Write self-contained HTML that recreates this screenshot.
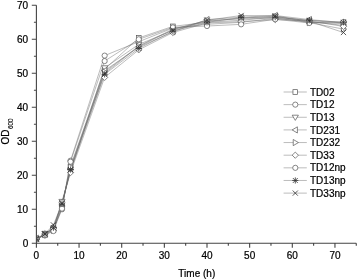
<!DOCTYPE html>
<html><head><meta charset="utf-8"><style>
html,body{margin:0;padding:0;background:#fff;}
body{width:358px;height:280px;overflow:hidden;}
svg{display:block;will-change:transform;}
text{font-family:"Liberation Sans",sans-serif;font-size:10px;fill:#000;stroke:#000;stroke-width:0.22px;}
.ln{fill:none;stroke:#6a6a6a;stroke-width:0.45;}
.m{fill:#fff;stroke:#555;stroke-width:0.7;}
.mk{fill:none;stroke:#333;stroke-width:0.8;}
.ax{fill:none;stroke:#444;stroke-width:1.1;}
</style></head><body>
<svg width="358" height="280" viewBox="0 0 358 280">
<defs><clipPath id="pc"><rect x="36.9" y="0" width="330" height="242.8"/></clipPath></defs>
<g clip-path="url(#pc)">
<polyline points="36.40,239.22 44.93,234.80 53.46,229.70 61.99,206.58 70.52,166.46 104.64,69.22 138.76,37.94 172.88,26.38 207.00,22.30 241.12,20.26 275.24,17.20 309.36,20.60 343.48,22.98" class="ln"/>
<polyline points="36.40,238.54 44.93,235.48 53.46,228.00 61.99,209.30 70.52,160.68 104.64,55.62 138.76,41.68 172.88,28.08 207.00,24.34 241.12,22.30 275.24,18.22 309.36,21.62 343.48,25.36" class="ln"/>
<polyline points="36.40,239.90 44.93,233.44 53.46,229.02 61.99,201.48 70.52,171.22 104.64,67.86 138.76,44.40 172.88,30.46 207.00,21.28 241.12,18.22 275.24,16.18 309.36,22.30 343.48,23.66" class="ln"/>
<polyline points="36.40,238.20 44.93,234.46 53.46,226.30 61.99,204.88 70.52,168.50 104.64,70.58 138.76,47.12 172.88,31.82 207.00,19.58 241.12,17.20 275.24,15.50 309.36,19.58 343.48,22.64" class="ln"/>
<polyline points="36.40,238.88 44.93,234.46 53.46,230.38 61.99,205.90 70.52,167.14 104.64,71.94 138.76,46.10 172.88,29.10 207.00,20.60 241.12,18.90 275.24,17.88 309.36,22.64 343.48,29.10" class="ln"/>
<polyline points="36.40,239.56 44.93,233.78 53.46,228.34 61.99,202.50 70.52,172.58 104.64,77.38 138.76,49.84 172.88,32.50 207.00,22.98 241.12,21.62 275.24,19.58 309.36,20.94 343.48,26.38" class="ln"/>
<polyline points="36.40,238.88 44.93,235.14 53.46,231.06 61.99,208.62 70.52,161.70 104.64,61.06 138.76,39.30 172.88,27.40 207.00,26.04 241.12,24.34 275.24,19.24 309.36,22.98 343.48,21.96" class="ln"/>
<polyline points="36.40,239.22 44.93,234.12 53.46,227.66 61.99,203.86 70.52,169.52 104.64,74.32 138.76,48.48 172.88,31.14 207.00,22.30 241.12,17.54 275.24,17.20 309.36,20.26 343.48,22.30" class="ln"/>
<polyline points="36.40,238.54 44.93,233.78 53.46,224.94 61.99,203.18 70.52,170.20 104.64,73.30 138.76,46.44 172.88,29.78 207.00,20.26 241.12,15.50 275.24,15.84 309.36,21.28 343.48,32.50" class="ln"/>
<rect x="34.06" y="236.88" width="4.68" height="4.68" class="m"/>
<rect x="42.59" y="232.46" width="4.68" height="4.68" class="m"/>
<rect x="51.12" y="227.36" width="4.68" height="4.68" class="m"/>
<rect x="59.65" y="204.24" width="4.68" height="4.68" class="m"/>
<rect x="68.18" y="164.12" width="4.68" height="4.68" class="m"/>
<rect x="102.30" y="66.88" width="4.68" height="4.68" class="m"/>
<rect x="136.42" y="35.60" width="4.68" height="4.68" class="m"/>
<rect x="170.54" y="24.04" width="4.68" height="4.68" class="m"/>
<rect x="204.66" y="19.96" width="4.68" height="4.68" class="m"/>
<rect x="238.78" y="17.92" width="4.68" height="4.68" class="m"/>
<rect x="272.90" y="14.86" width="4.68" height="4.68" class="m"/>
<rect x="307.02" y="18.26" width="4.68" height="4.68" class="m"/>
<rect x="341.14" y="20.64" width="4.68" height="4.68" class="m"/>
<circle cx="36.40" cy="238.54" r="2.60" class="m"/>
<circle cx="44.93" cy="235.48" r="2.60" class="m"/>
<circle cx="53.46" cy="228.00" r="2.60" class="m"/>
<circle cx="61.99" cy="209.30" r="2.60" class="m"/>
<circle cx="70.52" cy="160.68" r="2.60" class="m"/>
<circle cx="104.64" cy="55.62" r="2.60" class="m"/>
<circle cx="138.76" cy="41.68" r="2.60" class="m"/>
<circle cx="172.88" cy="28.08" r="2.60" class="m"/>
<circle cx="207.00" cy="24.34" r="2.60" class="m"/>
<circle cx="241.12" cy="22.30" r="2.60" class="m"/>
<circle cx="275.24" cy="18.22" r="2.60" class="m"/>
<circle cx="309.36" cy="21.62" r="2.60" class="m"/>
<circle cx="343.48" cy="25.36" r="2.60" class="m"/>
<path d="M33.30,237.82H39.50L36.40,243.02Z" class="m"/>
<path d="M41.83,231.36H48.03L44.93,236.56Z" class="m"/>
<path d="M50.36,226.94H56.56L53.46,232.14Z" class="m"/>
<path d="M58.89,199.40H65.09L61.99,204.60Z" class="m"/>
<path d="M67.42,169.14H73.62L70.52,174.34Z" class="m"/>
<path d="M101.54,65.78H107.74L104.64,70.98Z" class="m"/>
<path d="M135.66,42.32H141.86L138.76,47.52Z" class="m"/>
<path d="M169.78,28.38H175.98L172.88,33.58Z" class="m"/>
<path d="M203.90,19.20H210.10L207.00,24.40Z" class="m"/>
<path d="M238.02,16.14H244.22L241.12,21.34Z" class="m"/>
<path d="M272.14,14.10H278.34L275.24,19.30Z" class="m"/>
<path d="M306.26,20.22H312.46L309.36,25.42Z" class="m"/>
<path d="M340.38,21.58H346.58L343.48,26.78Z" class="m"/>
<path d="M38.48,235.10V241.30L33.28,238.20Z" class="m"/>
<path d="M47.01,231.36V237.56L41.81,234.46Z" class="m"/>
<path d="M55.54,223.20V229.40L50.34,226.30Z" class="m"/>
<path d="M64.07,201.78V207.98L58.87,204.88Z" class="m"/>
<path d="M72.60,165.40V171.60L67.40,168.50Z" class="m"/>
<path d="M106.72,67.48V73.68L101.52,70.58Z" class="m"/>
<path d="M140.84,44.02V50.22L135.64,47.12Z" class="m"/>
<path d="M174.96,28.72V34.92L169.76,31.82Z" class="m"/>
<path d="M209.08,16.48V22.68L203.88,19.58Z" class="m"/>
<path d="M243.20,14.10V20.30L238.00,17.20Z" class="m"/>
<path d="M277.32,12.40V18.60L272.12,15.50Z" class="m"/>
<path d="M311.44,16.48V22.68L306.24,19.58Z" class="m"/>
<path d="M345.56,19.54V25.74L340.36,22.64Z" class="m"/>
<path d="M34.32,235.78V241.98L39.52,238.88Z" class="m"/>
<path d="M42.85,231.36V237.56L48.05,234.46Z" class="m"/>
<path d="M51.38,227.28V233.48L56.58,230.38Z" class="m"/>
<path d="M59.91,202.80V209.00L65.11,205.90Z" class="m"/>
<path d="M68.44,164.04V170.24L73.64,167.14Z" class="m"/>
<path d="M102.56,68.84V75.04L107.76,71.94Z" class="m"/>
<path d="M136.68,43.00V49.20L141.88,46.10Z" class="m"/>
<path d="M170.80,26.00V32.20L176.00,29.10Z" class="m"/>
<path d="M204.92,17.50V23.70L210.12,20.60Z" class="m"/>
<path d="M239.04,15.80V22.00L244.24,18.90Z" class="m"/>
<path d="M273.16,14.78V20.98L278.36,17.88Z" class="m"/>
<path d="M307.28,19.54V25.74L312.48,22.64Z" class="m"/>
<path d="M341.40,26.00V32.20L346.60,29.10Z" class="m"/>
<path d="M36.40,236.44L39.52,239.56L36.40,242.68L33.28,239.56Z" class="m"/>
<path d="M44.93,230.66L48.05,233.78L44.93,236.90L41.81,233.78Z" class="m"/>
<path d="M53.46,225.22L56.58,228.34L53.46,231.46L50.34,228.34Z" class="m"/>
<path d="M61.99,199.38L65.11,202.50L61.99,205.62L58.87,202.50Z" class="m"/>
<path d="M70.52,169.46L73.64,172.58L70.52,175.70L67.40,172.58Z" class="m"/>
<path d="M104.64,74.26L107.76,77.38L104.64,80.50L101.52,77.38Z" class="m"/>
<path d="M138.76,46.72L141.88,49.84L138.76,52.96L135.64,49.84Z" class="m"/>
<path d="M172.88,29.38L176.00,32.50L172.88,35.62L169.76,32.50Z" class="m"/>
<path d="M207.00,19.86L210.12,22.98L207.00,26.10L203.88,22.98Z" class="m"/>
<path d="M241.12,18.50L244.24,21.62L241.12,24.74L238.00,21.62Z" class="m"/>
<path d="M275.24,16.46L278.36,19.58L275.24,22.70L272.12,19.58Z" class="m"/>
<path d="M309.36,17.82L312.48,20.94L309.36,24.06L306.24,20.94Z" class="m"/>
<path d="M343.48,23.26L346.60,26.38L343.48,29.50L340.36,26.38Z" class="m"/>
<circle cx="36.40" cy="238.88" r="2.60" class="m"/>
<circle cx="44.93" cy="235.14" r="2.60" class="m"/>
<circle cx="53.46" cy="231.06" r="2.60" class="m"/>
<circle cx="61.99" cy="208.62" r="2.60" class="m"/>
<circle cx="70.52" cy="161.70" r="2.60" class="m"/>
<circle cx="104.64" cy="61.06" r="2.60" class="m"/>
<circle cx="138.76" cy="39.30" r="2.60" class="m"/>
<circle cx="172.88" cy="27.40" r="2.60" class="m"/>
<circle cx="207.00" cy="26.04" r="2.60" class="m"/>
<circle cx="241.12" cy="24.34" r="2.60" class="m"/>
<circle cx="275.24" cy="19.24" r="2.60" class="m"/>
<circle cx="309.36" cy="22.98" r="2.60" class="m"/>
<circle cx="343.48" cy="21.96" r="2.60" class="m"/>
<path d="M33.93,236.75L38.87,241.69M38.87,236.75L33.93,241.69M36.40,236.13V242.31M33.31,239.22H39.49" class="mk"/>
<path d="M42.46,231.65L47.40,236.59M47.40,231.65L42.46,236.59M44.93,231.03V237.21M41.84,234.12H48.02" class="mk"/>
<path d="M50.99,225.19L55.93,230.13M55.93,225.19L50.99,230.13M53.46,224.57V230.75M50.37,227.66H56.55" class="mk"/>
<path d="M59.52,201.39L64.46,206.33M64.46,201.39L59.52,206.33M61.99,200.77V206.95M58.90,203.86H65.08" class="mk"/>
<path d="M68.05,167.05L72.99,171.99M72.99,167.05L68.05,171.99M70.52,166.43V172.61M67.43,169.52H73.61" class="mk"/>
<path d="M102.17,71.85L107.11,76.79M107.11,71.85L102.17,76.79M104.64,71.23V77.41M101.55,74.32H107.73" class="mk"/>
<path d="M136.29,46.01L141.23,50.95M141.23,46.01L136.29,50.95M138.76,45.39V51.57M135.67,48.48H141.85" class="mk"/>
<path d="M170.41,28.67L175.35,33.61M175.35,28.67L170.41,33.61M172.88,28.05V34.23M169.79,31.14H175.97" class="mk"/>
<path d="M204.53,19.83L209.47,24.77M209.47,19.83L204.53,24.77M207.00,19.21V25.39M203.91,22.30H210.09" class="mk"/>
<path d="M238.65,15.07L243.59,20.01M243.59,15.07L238.65,20.01M241.12,14.45V20.63M238.03,17.54H244.21" class="mk"/>
<path d="M272.77,14.73L277.71,19.67M277.71,14.73L272.77,19.67M275.24,14.11V20.29M272.15,17.20H278.33" class="mk"/>
<path d="M306.89,17.79L311.83,22.73M311.83,17.79L306.89,22.73M309.36,17.17V23.35M306.27,20.26H312.45" class="mk"/>
<path d="M341.01,19.83L345.95,24.77M345.95,19.83L341.01,24.77M343.48,19.21V25.39M340.39,22.30H346.57" class="mk"/>
<path d="M33.80,235.94L39.00,241.14M39.00,235.94L33.80,241.14" class="mk"/>
<path d="M42.33,231.18L47.53,236.38M47.53,231.18L42.33,236.38" class="mk"/>
<path d="M50.86,222.34L56.06,227.54M56.06,222.34L50.86,227.54" class="mk"/>
<path d="M59.39,200.58L64.59,205.78M64.59,200.58L59.39,205.78" class="mk"/>
<path d="M67.92,167.60L73.12,172.80M73.12,167.60L67.92,172.80" class="mk"/>
<path d="M102.04,70.70L107.24,75.90M107.24,70.70L102.04,75.90" class="mk"/>
<path d="M136.16,43.84L141.36,49.04M141.36,43.84L136.16,49.04" class="mk"/>
<path d="M170.28,27.18L175.48,32.38M175.48,27.18L170.28,32.38" class="mk"/>
<path d="M204.40,17.66L209.60,22.86M209.60,17.66L204.40,22.86" class="mk"/>
<path d="M238.52,12.90L243.72,18.10M243.72,12.90L238.52,18.10" class="mk"/>
<path d="M272.64,13.24L277.84,18.44M277.84,13.24L272.64,18.44" class="mk"/>
<path d="M306.76,18.68L311.96,23.88M311.96,18.68L306.76,23.88" class="mk"/>
<path d="M340.88,29.90L346.08,35.10M346.08,29.90L340.88,35.10" class="mk"/>
</g>
<path d="M36.4,5.30V243.3M31.80,243.30H36.4M33.90,226.30H36.4M31.80,209.30H36.4M33.90,192.30H36.4M31.80,175.30H36.4M33.90,158.30H36.4M31.80,141.30H36.4M33.90,124.30H36.4M31.80,107.30H36.4M33.90,90.30H36.4M31.80,73.30H36.4M33.90,56.30H36.4M31.80,39.30H36.4M33.90,22.30H36.4M31.80,5.30H36.4M36.4,243.3H356.27M36.40,243.3V247.70M57.72,243.3V245.70M79.05,243.3V247.70M100.38,243.3V245.70M121.70,243.3V247.70M143.02,243.3V245.70M164.35,243.3V247.70M185.67,243.3V245.70M207.00,243.3V247.70M228.32,243.3V245.70M249.65,243.3V247.70M270.97,243.3V245.70M292.30,243.3V247.70M313.62,243.3V245.70M334.95,243.3V247.70M356.27,243.3V245.70" class="ax"/>
<text x="28.2" y="246.80" text-anchor="end">0</text>
<text x="28.2" y="212.80" text-anchor="end">10</text>
<text x="28.2" y="178.80" text-anchor="end">20</text>
<text x="28.2" y="144.80" text-anchor="end">30</text>
<text x="28.2" y="110.80" text-anchor="end">40</text>
<text x="28.2" y="76.80" text-anchor="end">50</text>
<text x="28.2" y="42.80" text-anchor="end">60</text>
<text x="28.2" y="8.80" text-anchor="end">70</text>
<text x="36.40" y="258.6" text-anchor="middle">0</text>
<text x="79.05" y="258.6" text-anchor="middle">10</text>
<text x="121.70" y="258.6" text-anchor="middle">20</text>
<text x="164.35" y="258.6" text-anchor="middle">30</text>
<text x="207.00" y="258.6" text-anchor="middle">40</text>
<text x="249.65" y="258.6" text-anchor="middle">50</text>
<text x="292.30" y="258.6" text-anchor="middle">60</text>
<text x="334.95" y="258.6" text-anchor="middle">70</text>
<text x="196.8" y="276.8" text-anchor="middle">Time (h)</text>
<text transform="translate(8.6,144.6) rotate(-90)">OD<tspan font-size="6.3" dx="0.5" dy="4.3" stroke-width="0.12">600</tspan></text>
<path d="M283.6,92.00H306.8" class="ln"/>
<rect x="292.96" y="89.66" width="4.68" height="4.68" class="m"/>
<text x="310" y="95.60">TD02</text>
<path d="M283.6,104.64H306.8" class="ln"/>
<circle cx="295.30" cy="104.64" r="2.60" class="m"/>
<text x="310" y="108.24">TD12</text>
<path d="M283.6,117.28H306.8" class="ln"/>
<path d="M292.20,115.20H298.40L295.30,120.40Z" class="m"/>
<text x="310" y="120.88">TD13</text>
<path d="M283.6,129.92H306.8" class="ln"/>
<path d="M297.38,126.82V133.02L292.18,129.92Z" class="m"/>
<text x="310" y="133.52">TD231</text>
<path d="M283.6,142.56H306.8" class="ln"/>
<path d="M293.22,139.46V145.66L298.42,142.56Z" class="m"/>
<text x="310" y="146.16">TD232</text>
<path d="M283.6,155.20H306.8" class="ln"/>
<path d="M295.30,152.08L298.42,155.20L295.30,158.32L292.18,155.20Z" class="m"/>
<text x="310" y="158.80">TD33</text>
<path d="M283.6,167.84H306.8" class="ln"/>
<circle cx="295.30" cy="167.84" r="2.60" class="m"/>
<text x="310" y="171.44">TD12np</text>
<path d="M283.6,180.48H306.8" class="ln"/>
<path d="M292.83,178.01L297.77,182.95M297.77,178.01L292.83,182.95M295.30,177.39V183.57M292.21,180.48H298.39" class="mk"/>
<text x="310" y="184.08">TD13np</text>
<path d="M283.6,193.12H306.8" class="ln"/>
<path d="M292.70,190.52L297.90,195.72M297.90,190.52L292.70,195.72" class="mk"/>
<text x="310" y="196.72">TD33np</text>
</svg>
</body></html>
